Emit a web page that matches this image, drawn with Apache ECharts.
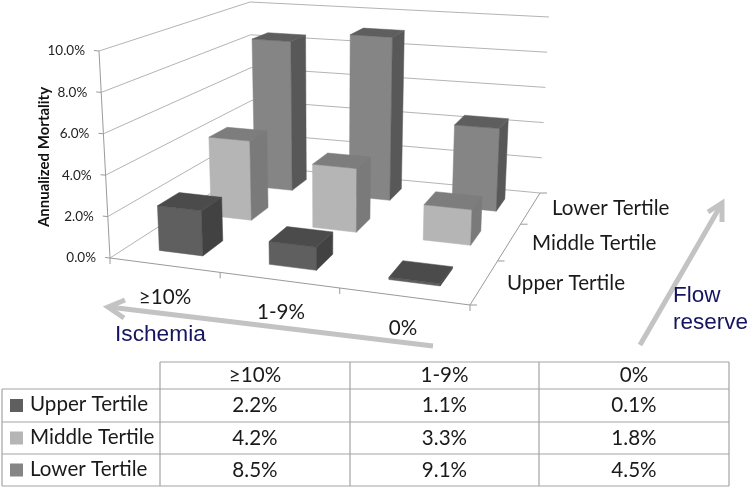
<!DOCTYPE html>
<html><head><meta charset="utf-8">
<style>html,body{margin:0;padding:0;background:#fff}#c{width:750px;height:489px}</style>
<script src="https://cdn.jsdelivr.net/npm/echarts@6/dist/echarts.min.js"></script>
</head><body><div id="c"></div>
<script>
const categories = ['≥10%', '1-9%', '0%'];
const tertiles = ['Upper Tertile', 'Middle Tertile', 'Lower Tertile'];
const upperValues = [2.2, 1.1, 0.1];
const middleValues = [4.2, 3.3, 1.8];
const lowerValues = [8.5, 9.1, 4.5];
const yTicks = [0, 2, 4, 6, 8, 10];
const yTitle = 'Annualized Mortality';

// perspective box of the plot
const C = {
  fl0:[110,258], fr0:[470,305], bl0:[253,166], br0:[540,193],
  fl1:[99,51],  fr1:[478,83],  bl1:[250,2],   br1:[549,17]
};
const KU = 1.134, KV = 0.772;
const remap = (t,k) => t<=0?0:t>=1?1:t/(t+k*(1-t));
const lerp = (a,b,t) => [a[0]+(b[0]-a[0])*t, a[1]+(b[1]-a[1])*t];
function proj(col,row,h){ // col 0..3, row 0..3 front to back, h 0..1
  const u=remap(col/3,KU), v=remap(row/3,KV);
  const b=lerp(lerp(C.fl0,C.fr0,u),lerp(C.bl0,C.br0,u),v);
  const t=lerp(lerp(C.fl1,C.fr1,u),lerp(C.bl1,C.br1,u),v);
  return lerp(b,t,h);
}
// value -> 0..1 through the hidden cartesian axes
function frac(api,val){
  const y0=api.coord([0,0])[1], y1=api.coord([0,10])[1];
  return (api.coord([0,val])[1]-y0)/(y1-y0);
}
function colPos(api,x){
  const x0=api.coord([0,0])[0], x1=api.coord([3,0])[0];
  return (api.coord([x,0])[0]-x0)/(x1-x0)*3;
}
const line=(a,b,color,w)=>({type:'line',shape:{x1:a[0],y1:a[1],x2:b[0],y2:b[1]},style:{stroke:color,lineWidth:w||1},silent:true});
const GRID='#b4b4b4', AXIS='#9a9a9a';
const labelFont='Lato, "Noto Sans", sans-serif';

function renderFrame(params,api){
  const val=api.value(0);
  const h=frac(api,val);
  const a=proj(0,0,h), b=proj(0,3,h), c=proj(3,3,h);
  const kids=[];
  kids.push(line(a,b,GRID,1), line(b,c,GRID,1));
  kids.push(line(a,[a[0]-5,a[1]-0.5],AXIS,1));
  kids.push({type:'text',style:{text:val.toFixed(1)+'%',x:a[0]-14,y:a[1],align:'right',verticalAlign:'middle',font:'13.5px '+labelFont,fill:'#222'},silent:true});
  if(params.dataIndex===0){
    kids.push(line(proj(0,0,0),proj(0,0,1),AXIS,1));
    kids.push(line(proj(0,0,0),proj(3,0,0),AXIS,1));
    kids.push(line(proj(3,0,0),proj(3,3,0),AXIS,1));
    for(let i=0;i<=3;i++){
      const p=proj(i,0,0); kids.push(line(p,[p[0],p[1]+6],AXIS,1));
      const q=proj(3,i,0); kids.push(line(q,[q[0]+7,q[1]],AXIS,1));
    }
  }
  return {type:'group',children:kids};
}
function makeBar(row,colors){
  return function(params,api){
    const col=api.value(0), h=frac(api,api.value(1));
    const sh=0.3+row*0.012;
    const x0=colPos(api,col+sh), x1=colPos(api,col+sh+0.405), r0=row+0.3, r1=row+0.7;
    const poly=(pts,fill)=>({type:'polygon',shape:{points:pts},style:{fill,stroke:fill,lineWidth:0.5},silent:true});
    const A=proj(x0,r0,0),B=proj(x1,r0,0),Cc=proj(x1,r1,0);
    const D=proj(x0,r0,h),E=proj(x1,r0,h),F=proj(x1,r1,h),G=proj(x0,r1,h);
    return {type:'group',children:[
      poly([A,B,E,D],colors[0]),
      poly([B,Cc,F,E],colors[2]),
      poly([D,E,F,G],colors[1])
    ]};
  };
}
function barSeries(name,row,values,colors,z){
  return {type:'custom',name,coordinateSystem:'cartesian2d',clip:false,z,silent:true,
    encode:{x:0,y:1},data:values.map((v,i)=>[i,v]),renderItem:makeBar(row,colors)};
}

// Table and annotations
const TX=[2,160,350,539,729], TY=[362,389,422,454,486];
const TCOL='#a3a3a3';
const swatches=['#5f5f5f','#b5b5b5','#858585'];
const rows=[upperValues,middleValues,lowerValues];
const gfx=[];
const gl=(x1,y1,x2,y2)=>gfx.push({type:'line',shape:{x1,y1,x2,y2},style:{stroke:TCOL,lineWidth:1.2},silent:true});
gl(TX[1],TY[0],TX[4],TY[0]);
for(let i=1;i<TY.length;i++) gl(TX[0],TY[i],TX[4],TY[i]);
gl(TX[0],TY[1],TX[0],TY[4]);
for(let i=1;i<TX.length;i++) gl(TX[i],TY[0],TX[i],TY[4]);
const FS=20.6;
const txt=(text,x,y,align,size,extra)=>gfx.push(Object.assign({type:'text',x,y,style:{text,x:0,y:0,align,verticalAlign:'middle',font:size+'px '+labelFont,fill:'#1a1a1a'},silent:true},extra||{}));
categories.forEach((c,i)=>txt(c,(TX[i+1]+TX[i+2])/2,375.5,'center',FS));
tertiles.forEach((t,r)=>{
  const cy=(TY[r+1]+TY[r+2])/2;
  gfx.push({type:'rect',shape:{x:10,y:cy-6.5,width:13,height:13},style:{fill:swatches[r]},silent:true});
  txt(t,30,cy-1,'left',FS);
  rows[r].forEach((v,i)=>txt(v.toFixed(1)+'%',(TX[i+1]+TX[i+2])/2,cy,'center',FS));
});
// axis category labels
const catLabelPos=[[165,297],[281,312],[403,328]];
categories.forEach((c,i)=>txt(c,catLabelPos[i][0],catLabelPos[i][1],'center',FS));
const rowLabelPos=[[507,283],[532,243],[552,208]];
tertiles.forEach((t,i)=>txt(t,rowLabelPos[i][0],rowLabelPos[i][1],'left',FS));
gfx.push({type:'text',x:44,y:157,rotation:Math.PI/2,style:{text:yTitle,x:0,y:0,align:'center',verticalAlign:'middle',font:'bold 15px '+labelFont,fill:'#111'},silent:true});
// arrows
const ARW='#c3c3c3';
const pl=(pts)=>gfx.push({type:'polyline',shape:{points:pts},style:{stroke:ARW,lineWidth:5,fill:null,lineJoin:'miter'},silent:true});
pl([[433,346],[109,307]]); pl([[125,300],[108,307],[124,318]]);
pl([[640,345],[721,205]]); pl([[708,212],[722,203],[722,222]]);
const navy='#14145f';
const annot=(text,x,y,size)=>gfx.push({type:'text',x,y,style:{text,x:0,y:0,align:'left',verticalAlign:'middle',font:size+'px "Liberation Sans", Arial, sans-serif',fill:navy},silent:true});
annot('Ischemia',115,335,22.7);
annot('Flow',673,296,22.5);
annot('reserve',673,323,22.5);

const chart=echarts.init(document.getElementById('c'),null,{renderer:'canvas'});
chart.setOption({
  animation:false,
  backgroundColor:'#fff',
  grid:{left:100,right:300,top:50,bottom:200},
  xAxis:{type:'value',min:0,max:3,show:false},
  yAxis:{type:'value',min:0,max:10,interval:2,show:false},
  graphic:gfx,
  series:[
    {type:'custom',name:'frame',coordinateSystem:'cartesian2d',clip:false,z:1,silent:true,
     encode:{x:1,y:0},data:yTicks.map(v=>[v,0]),renderItem:renderFrame},
    barSeries(tertiles[2],2,lowerValues,['#858585','#5e5e5e','#585858'],3),
    barSeries(tertiles[1],1,middleValues,['#b5b5b5','#7d7d7d','#7a7a7a'],4),
    barSeries(tertiles[0],0,upperValues,['#5f5f5f','#4b4b4b','#424242'],5)
  ]
});
</script></body></html>
